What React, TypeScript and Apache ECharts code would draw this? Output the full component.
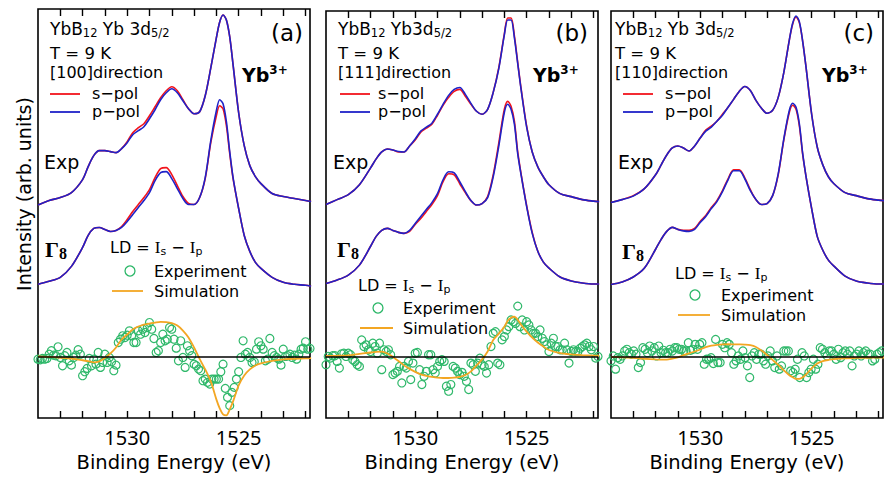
import React, { useEffect, useRef } from "react";
import * as echarts from "echarts";

// ---------------- data ----------------
// Binding-energy grid (eV) for the spectra and simulated LD curves
const energyGrid = [1534, 1533.5, 1533, 1532.5, 1532, 1531.75, 1531.5, 1531.25, 1531, 1530.75, 1530.5, 1530.25, 1530, 1529.75, 1529.5, 1529.25, 1529, 1528.75, 1528.5, 1528.25, 1528, 1527.75, 1527.5, 1527.25, 1527, 1526.75, 1526.5, 1526.25, 1526, 1525.85, 1525.7, 1525.55, 1525.4, 1525.25, 1525, 1524.75, 1524.5, 1524.25, 1524, 1523.5, 1523, 1522.5, 1522, 1521.75];

// Panel (a) [100]
const expA_s = [213.5, 218, 221, 226, 239, 252, 263, 268, 268, 267, 266, 270, 277, 286, 291, 295, 303, 312, 321, 328, 332, 328, 319, 310, 305, 307, 323, 351, 381, 397, 404, 399, 382, 354, 306, 273, 253, 242, 235, 225, 222, 220, 218, 217];
const expA_p = [213.5, 218, 221, 226, 239, 252, 263, 268, 268, 267, 266, 270, 276, 284, 288, 292, 300, 309, 319, 326, 330, 326, 318, 310, 305, 307, 323, 351, 381, 397, 404, 399, 382, 354, 306, 273, 253, 242, 235, 225, 222, 220, 218, 217];
const simA_s = [134, 137, 141, 152, 171, 183, 190, 191, 189, 187, 188, 192, 199, 207, 214, 221, 229, 241, 250, 251, 244, 233, 222, 215, 214, 221, 240, 276, 303, 313, 310, 293, 265, 240, 210, 183, 167, 156, 150, 141, 136, 134, 133, 132];
const simA_p = [134, 137, 141, 152, 171, 183, 190, 191, 189, 187, 188, 191, 197, 204, 211, 218, 226, 238, 246, 247, 240, 230, 220, 214, 214, 221, 241, 278, 308, 319, 315, 297, 267, 241, 210, 183, 167, 156, 150, 141, 136, 134, 133, 132];
const ldSimA = [0, -0.5, -1.3, -2.2, -3.8, -4.8, -6, -5, -1.5, 3, 9, 17, 22, 27, 30, 32, 33, 34, 34.7, 34.5, 33.5, 31, 26, 19, 9, -2.5, -13, -25, -43, -52, -58, -59, -53, -45, -29, -19, -13, -9, -7, -4.5, -3, -2.3, -2, -1.7];
const ldExpA = [
  -2.7, -3.3, -2, -2.7, -2, 2.3, 5.7, 1.3, 0.7, 9.7,
  -1, -9.3, 0.7, 4, -4.3, -8.7, -1, 1.3, 6.7, 2.3,
  -19.3, -15.3, -12, -2, -9.3, -2.7, -7.7, 4, -11, -6,
  2.3, -6, -1, -5.3, -14.3, -8.7, 14, 17.3, 20.7, 19,
  21.3, 25.7, 20.7, 14, 14, 25.7, 22.3, 27.3, 24, 29,
  34, 27.3, 18, 4, 5.7, 14, 22.3, 15.7, 17.3, 29,
  27.3, 17.3, 8.3, -4.3, 15.7, -1, -11, 10.7, 5.7, 0.7,
  -7.7, -9.3, -12.7, -14.3, -24.3, -22.7, -26, -27.7, -22.7, -22.7,
  -22.7, -22.7, -15.3, -7.7, -32, -41, -49.3, -36, -31, -22.7,
  -15.3, -1, 15.7, 2.3, 4, -1, -6, -5.3, 7.3, 14.7,
  10.7, 7.3, -4.3, -2.7, 18, 4, 0.7, -1, -2.7, -8.7,
  7.3, 0, 0.7, 2.3, -1, 1.3, -2.7, 2.3, 7.3, 8.3,
  14.7, 7.3, 8,
];

// Panel (b) [111]
const expB_s = [215, 220, 225, 235, 252, 261, 268, 271, 270, 268, 268, 274, 280, 288, 292, 296, 305, 315, 323, 329, 331, 324, 316, 309, 306, 311, 328, 353, 387, 403, 403, 385, 358, 332, 294, 268, 253, 243, 235, 226, 223, 220, 218.5, 218];
const expB_p = [215, 220, 225, 235, 252, 261, 268, 271, 270, 268.5, 268, 274, 281, 289, 293, 297, 306, 316, 325, 331, 333, 326, 317, 309, 306, 311, 328, 352, 386, 401, 401, 383, 357, 331, 293, 268, 253, 243, 235, 226, 223, 220, 218.5, 218];
const simB_s = [135.5, 139, 144, 154, 173, 183, 189, 191, 189, 187, 186, 188, 195, 201, 208, 215, 224, 238, 246, 245, 236, 227, 219, 214.5, 216, 223, 245, 277, 311, 319, 314, 299, 268, 246, 214, 187, 168, 157, 151, 142, 138, 136, 135, 135];
const simB_p = [135.5, 139, 144, 154, 173, 183, 189, 191, 189, 187, 186, 189, 196, 203, 210, 217, 226, 240, 248, 247, 238, 228, 219, 214.5, 216, 222, 243, 274, 308, 316, 311, 296, 266, 245, 213, 186, 168, 157, 151, 142, 138, 136, 135, 135];
const ldSimB = [0.5, 0.7, 1, 2.5, 4, 4.7, 4.8, 3, -0.5, -4.5, -9, -12.5, -15.5, -18, -19.5, -20.5, -21.3, -21.7, -21.7, -21.3, -20.5, -18.7, -15, -9, -3, 5, 16.5, 23, 30, 36, 39, 40, 37, 32, 25, 19, 14, 10, 6.5, 3.3, 2, 1.3, 0.8, 0.7];
const ldExpB = [
  -8.3, 0, -1.7, 0.7, 0.7, -5, -11.7, 2.7, 3.3, 0,
  3.3, 1.7, -3.3, -5, -8.3, -10, 16.7, 10, 11.7, 6.7,
  5, 13.3, 10, 3.3, 13.3, -13.3, 6.7, 5, 6.7, 1.7,
  -18.3, -16.7, -15, -10, -26.7, -10, -11.7, -5, -23.3, -6.7,
  3.3, 4, -13.3, -28.3, -20, -15, 1.7, 1.7, -13.3, -16.7,
  -10, -5, -3.3, -5, -30, -35, -28.3, -10, -11.7, -15,
  -18.3, -16, -20, -25, -33.3, -6.7, -8.3, -15, -6.7, -1.7,
  -8.3, -10, -16.7, -8.3, 10, 23.3, 25, -6.7, -8.3, 16.7,
  20, 26.7, 30, 36.7, 35, 33.3, 50.7, 30, 36.7, 26.7,
  35, 31.7, 26.7, 23.3, 23.3, 20, 26.7, 18.3, 15, 11.7,
  5, 13.3, 18.3, 10, 10, 6.7, 6.7, 13.3, 6.7, -6.7,
  5, 6.7, 5, 5, 8.3, 10, 11.7, 13.3, 10, 6.7,
  10, -1.7, 0,
];

// Panel (c) [110]
const expC_s = [217, 220, 224, 231, 245, 255, 265, 272, 274, 272, 269, 274, 282, 290, 294, 299, 306, 313, 321, 329, 334, 330, 320, 312, 307, 310, 323, 348, 381, 397, 404, 398, 379, 353, 306, 273, 255, 243, 236, 227, 224, 221, 219.5, 219];
const expC_p = [217, 220, 223.5, 231, 245, 255, 265, 272, 274, 272, 269, 274, 282, 289, 293, 299, 305, 313, 321, 329, 334, 330, 320, 312, 307, 310, 323, 348, 381, 398, 405, 399, 379, 353, 306, 273, 255, 243, 236, 227, 224, 221, 219.5, 219];
const simC_s = [134.5, 137, 142, 151, 170, 180, 188, 192, 190, 189, 189, 191, 198, 204, 212, 219, 229, 241, 250, 250, 242, 230, 220, 215, 216, 224, 245, 280, 308, 315, 311, 294, 265, 243, 211, 183, 169, 159, 153, 143, 138, 136, 135, 135];
const simC_p = [134.5, 137, 142, 151, 170, 180, 188, 192, 190, 188.5, 188, 190, 197, 203, 211, 218, 228, 240, 249, 249, 241, 229, 220, 215, 216, 224, 246, 281, 310, 317, 313, 296, 266, 243, 211, 183, 169, 159, 153, 143, 138, 136, 135, 135];
const ldSimC = [0, -0.4, -1, -1.8, -2.5, -2.7, -2.7, -1.8, -0.5, 1.8, 3.7, 5.5, 7.5, 9.8, 11.3, 12.2, 12.7, 12.8, 12.7, 12.6, 12.4, 11.8, 10, 6.5, 2, -3, -8, -13.5, -18.5, -20.5, -22, -22, -20.5, -17.5, -11.5, -6.5, -4.2, -3, -2.2, -1.3, -1, -0.8, -0.7, -0.7];
const ldExpC = [
  -4, 1, -12.3, -0.7, -2.3, 1, 6, 7.7, 4.3, 2.7,
  6, 2.7, -10.7, -5.7, 9.3, 7.7, 4.3, 11, 6, 9.3,
  1, 11, 4.3, 6.7, 4.3, 4.3, 7.7, 6, 9.3, 9.3,
  7.7, 7.7, 6, 6, 14.3, 6.7, 7.7, 12.7, 7.7, 12.7,
  14.3, -7.3, -2.3, -2.3, -0.7, -6.7, 17.7, -5.7, -5.7, 12.7,
  9.3, 14.3, 12.7, 4.3, -7.3, -4, 1, -2.3, 6, -0.7,
  -9, -20.7, 1, 4.3, -2.3, 2.7, 2.7, -4, -7.3, 1,
  6, -4, -10.7, 1, -12.3, -9, 6, 6, 6, -14,
  -15.7, -12.3, -2.3, -20.7, 4.3, 1, -20.7, -15.7, -12.3, -2.3,
  -12.3, -7.3, 9.3, 7.7, 4.3, 1, 6, 6, 2.7, -2.3,
  7.7, -0.7, 4.3, 6, 2.7, 6, -9, 1, 2.7, 6,
  1, 4.3, 6, 2.7, 2.7, -4, -2.3, 2.7, 4.3, 6,
];

// LD experimental energy sampling (start, step in eV) and LD zero levels
const ldExpStart = [1534.0, 1534.0, 1534.0];
const ldExpStep = [0.1, 0.1, 0.102];
const ldZero = [61.7, 62, 61.5];

// axis
const xMin = 1521.8;
const xMax = 1534;
const tickValues = [1522, 1523, 1524, 1525, 1526, 1527, 1528, 1529, 1530, 1531, 1532, 1533];
const labelValues = [1525, 1530];

// texts
const panelTags = ["(a)", "(b)", "(c)"];
const panelHeads = [" Yb 3d", " Yb3d", " Yb 3d"];
const panelDirs = ["[100]direction", "[111]direction", "[110]direction"];

// ---------------- styling / layout ----------------
const RED = "#f2141c";
const BLUE = "#1f22c8";
const ORANGE = "#f3a623";
const GREEN = "#2fb86a";
const FONT = "'DejaVu Sans', 'Noto Sans', sans-serif";
const TICKFONT = "'Noto Sans', 'DejaVu Sans', sans-serif";
const SERIF = "'Liberation Serif', 'DejaVu Serif', serif";

const grids = [
  { left: 38, top: 9 },
  { left: 326, top: 11 },
  { left: 611, top: 11 },
];
const GW = 272;
const GH = 410;

const layouts = [
  { headX: 50, legLine: [50, 80], legText: 92, tagRight: 303, ybX: 242, expX: 44, gX: 45, gY: 249, ldX: 110, ldY: 247, cX: 130, cY: 271, legExpX: 154, simLine: [112, 143], simY: 291 },
  { headX: 338, legLine: [340, 370], legText: 378, tagRight: 588, ybX: 533, expX: 333, gX: 337, gY: 249, ldX: 358, ldY: 285, cX: 378, cY: 308, legExpX: 403, simLine: [360, 393], simY: 328 },
  { headX: 615, legLine: [623, 653], legText: 665, tagRight: 874, ybX: 822, expX: 618, gX: 622, gY: 251, ldX: 675, ldY: 273, cX: 695, cY: 295, legExpX: 721, simLine: [678, 710], simY: 315 },
];

const pairs = (xs: number[], ys: number[], off = 0) => ys.map((v, i) => [xs[i], v + off]);
const ldPairs = (vals: number[], start: number, step: number, off: number) =>
  vals.map((v, i) => [Math.round((start - i * step) * 1000) / 1000, v + off]);

function txt(x: number, y: number, text: string, fontSize: number, extra: any = {}) {
  return {
    type: "text",
    x,
    y,
    silent: true,
    style: { text, fontSize, fontFamily: FONT, fill: "#000", align: "left", verticalAlign: "middle", ...extra },
  };
}

function buildOption() {
  const expS = [expA_s, expB_s, expC_s];
  const expP = [expA_p, expB_p, expC_p];
  const simS = [simA_s, simB_s, simC_s];
  const simP = [simA_p, simB_p, simC_p];
  const ldSim = [ldSimA, ldSimB, ldSimC];
  const ldExp = [ldExpA, ldExpB, ldExpC];

  const gridOpts: any[] = [];
  const xAxes: any[] = [];
  const yAxes: any[] = [];
  const series: any[] = [];
  const graphic: any[] = [];

  for (let i = 0; i < 3; i++) {
    gridOpts.push({
      left: grids[i].left,
      top: grids[i].top,
      width: GW,
      height: GH,
      show: true,
      borderColor: "#000",
      borderWidth: 1.6,
      backgroundColor: "transparent",
    });
    const tickStyle = { inside: true, length: 7, lineStyle: { color: "#000", width: 1.4 }, customValues: tickValues };
    xAxes.push({
      gridIndex: i,
      type: "value",
      position: "bottom",
      min: xMin,
      max: xMax,
      inverse: true,
      axisLine: { show: false },
      splitLine: { show: false },
      axisTick: tickStyle,
      axisLabel: {
        customValues: labelValues,
        fontSize: 20,
        color: "#000",
        margin: 9,
        fontFamily: TICKFONT,
        align: "center",
        formatter: (v: number) => String(v),
      },
      name: "Binding Energy (eV)",
      nameLocation: "middle",
      nameGap: 34,
      nameTextStyle: { fontSize: 19.5, color: "#000", fontFamily: FONT },
    });
    xAxes.push({
      gridIndex: i,
      type: "value",
      position: "top",
      min: xMin,
      max: xMax,
      inverse: true,
      axisLine: { show: false },
      splitLine: { show: false },
      axisTick: tickStyle,
      axisLabel: { show: false },
    });
    yAxes.push({ gridIndex: i, type: "value", min: 0, max: GH, show: false });

    const xi = 2 * i;
    const lineBase = { type: "line", xAxisIndex: xi, yAxisIndex: i, symbol: "none", smooth: 0.3, silent: true };
    series.push({ ...lineBase, data: pairs(energyGrid, expS[i]), lineStyle: { color: RED, width: 1.6 }, itemStyle: { color: RED } });
    series.push({ ...lineBase, data: pairs(energyGrid, expP[i]), lineStyle: { color: BLUE, width: 1.6 }, itemStyle: { color: BLUE } });
    series.push({ ...lineBase, data: pairs(energyGrid, simS[i]), lineStyle: { color: RED, width: 1.6 }, itemStyle: { color: RED } });
    series.push({ ...lineBase, data: pairs(energyGrid, simP[i]), lineStyle: { color: BLUE, width: 1.6 }, itemStyle: { color: BLUE } });
    series.push({
      type: "scatter",
      xAxisIndex: xi,
      yAxisIndex: i,
      silent: true,
      symbol: "circle",
      symbolSize: 8,
      itemStyle: { color: "rgba(0,0,0,0)", borderColor: GREEN, borderWidth: 1.2, opacity: 1 },
      data: ldPairs(ldExp[i], ldExpStart[i], ldExpStep[i], ldZero[i]),
      markLine: {
        silent: true,
        symbol: ["none", "none"],
        label: { show: false },
        lineStyle: { color: "#000", width: 1.6, type: "solid" },
        data: [{ yAxis: ldZero[i] }],
      },
    });
    series.push({ ...lineBase, data: pairs(energyGrid, ldSim[i], ldZero[i]), lineStyle: { color: ORANGE, width: 1.8 }, itemStyle: { color: ORANGE } });

    // ---- annotations ----
    const L = layouts[i];
    const headRich = {
      m: { fontSize: 17, fontFamily: FONT, fill: "#000", lineHeight: 20 },
      s: { fontSize: 11.5, fontFamily: FONT, fill: "#000", lineHeight: 11, verticalAlign: "bottom" },
    };
    graphic.push(txt(L.headX, 29, `{m|YbB}{s|12}{m|${panelHeads[i]}}{s|5/2}`, 17, { rich: headRich }));
    graphic.push(txt(L.headX, 53, "T = 9 K", 16.5));
    graphic.push(txt(L.headX, 72, panelDirs[i], 16));
    graphic.push({ type: "line", silent: true, shape: { x1: L.legLine[0], y1: 94, x2: L.legLine[1], y2: 94 }, style: { stroke: RED, lineWidth: 1.8 } });
    graphic.push(txt(L.legText, 93, "s\u2212pol", 16));
    graphic.push({ type: "line", silent: true, shape: { x1: L.legLine[0], y1: 112, x2: L.legLine[1], y2: 112 }, style: { stroke: BLUE, lineWidth: 1.8 } });
    graphic.push(txt(L.legText, 111.5, "p\u2212pol", 16));
    graphic.push(txt(L.tagRight, 33, panelTags[i], 23, { align: "right" }));
    graphic.push(
      txt(L.ybX, 75, "{b|Yb}{u|3+}", 19, {
        rich: {
          b: { fontSize: 19, fontWeight: "bold", fontFamily: FONT, fill: "#000", lineHeight: 22 },
          u: { fontSize: 12, fontWeight: "bold", fontFamily: FONT, fill: "#000", lineHeight: 18, verticalAlign: "top" },
        },
      })
    );
    graphic.push(txt(L.expX, 162, "Exp", 19));
    graphic.push(
      txt(L.gX, L.gY, "{g|\u0393}{s|8}", 22, {
        rich: {
          g: { fontSize: 22, fontWeight: "bold", fontFamily: SERIF, fill: "#000", lineHeight: 24 },
          s: { fontSize: 16, fontWeight: "bold", fontFamily: SERIF, fill: "#000", lineHeight: 16, verticalAlign: "bottom" },
        },
      })
    );
    graphic.push(
      txt(L.ldX, L.ldY, "{m|LD = }{i|I}{s|s}{m| \u2212 }{i|I}{s|p}", 16, {
        rich: {
          m: { fontSize: 16, fontFamily: FONT, fill: "#000", lineHeight: 20 },
          i: { fontSize: 17, fontFamily: SERIF, fill: "#000", lineHeight: 20 },
          s: { fontSize: 11, fontFamily: FONT, fill: "#000", lineHeight: 11, verticalAlign: "bottom" },
        },
      })
    );
    graphic.push({ type: "circle", silent: true, shape: { cx: L.cX, cy: L.cY, r: 5 }, style: { fill: "none", stroke: GREEN, lineWidth: 1.3 } });
    graphic.push(txt(L.legExpX, L.cY, "Experiment", 16));
    graphic.push({ type: "line", silent: true, shape: { x1: L.simLine[0], y1: L.simY, x2: L.simLine[1], y2: L.simY }, style: { stroke: ORANGE, lineWidth: 1.8 } });
    graphic.push(txt(L.legExpX, L.simY, "Simulation", 16));
  }

  graphic.push({
    type: "text",
    x: 24,
    y: 194,
    rotation: Math.PI / 2,
    silent: true,
    style: { text: "Intensity (arb. units)", fontSize: 19, fontFamily: FONT, fill: "#000", align: "center", verticalAlign: "middle" },
  });

  return {
    animation: false,
    backgroundColor: "#fff",
    grid: gridOpts,
    xAxis: xAxes,
    yAxis: yAxes,
    series,
    graphic,
  };
}

export default function App() {
  const ref = useRef<HTMLDivElement>(null);
  useEffect(() => {
    document.body.style.margin = "0";
    const chart = echarts.init(ref.current as HTMLDivElement, null, { renderer: "svg" });
    chart.setOption(buildOption() as any);
    return () => chart.dispose();
  }, []);
  return <div ref={ref} style={{ width: 884, height: 477 }} />;
}
